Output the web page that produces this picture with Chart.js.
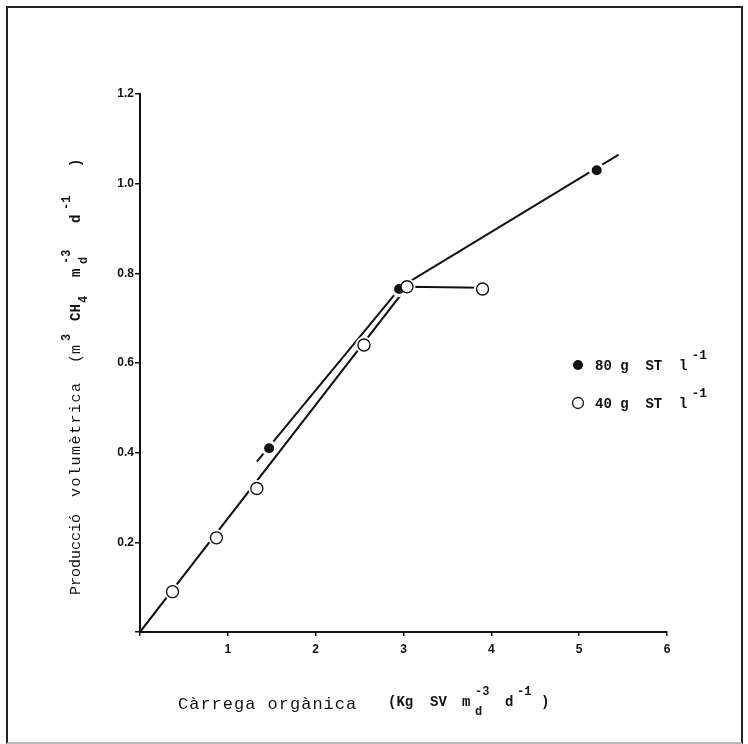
<!DOCTYPE html>
<html>
<head>
<meta charset="utf-8">
<script src="https://cdn.jsdelivr.net/npm/chart.js@4/dist/chart.umd.min.js"></script>
<style>
  html, body { margin: 0; padding: 0; background: #fff; }
  #wrap { position: relative; width: 748px; height: 744px; }
  #frame { position: absolute; left: 6px; top: 6px; width: 737px; height: 738px; border: 2px solid #222; border-bottom-color: #bbb; box-sizing: border-box; pointer-events: none; }
</style>
</head>
<body>
<div id="wrap">
  <canvas id="chart" width="748" height="744"></canvas>
  <div id="frame"></div>
</div>
<script>
// DATA
const load80 = [1.47, 2.95, 5.2];
const prod80 = [0.41, 0.765, 1.03];
const load40 = [0.37, 0.87, 1.33, 2.55, 3.04, 3.9];
const prod40 = [0.09, 0.21, 0.32, 0.64, 0.77, 0.765];

// fitted lines (hand drawn in the original)
const fit80X = [1.33, 2.95, null, 3.04, 5.45];
const fit80Y = [0.38, 0.765, null, 0.778, 1.065];
const fit40X = [0, 3.04, 3.9];
const fit40Y = [0, 0.77, 0.768];

const xTicks = [0, 1, 2, 3, 4, 5, 6];
const yTicks = [0, 0.2, 0.4, 0.6, 0.8, 1.0, 1.2];

const legendLabels = ["80 g  ST  l", "40 g  ST  l"];

const mono = '"Liberation Mono", "DejaVu Sans Mono", monospace';

function pts(xs, ys) {
  return xs.map((x, i) => (x === null ? { x: NaN, y: null } : { x: x, y: ys[i] }));
}

function put(ctx, txt, font, x, y, spacing) {
  ctx.font = font;
  ctx.letterSpacing = (spacing || 0) + "px";
  ctx.fillText(txt, x, y);
  ctx.letterSpacing = "0px";
}

// TITLES AND LEGEND
const textPlugin = {
  id: "texts",
  afterDraw(chart) {
    const ctx = chart.ctx;
    const reg = "15px " + mono;
    const bold = "bold 14px " + mono;
    const small = "bold 12px " + mono;
    ctx.save();
    ctx.fillStyle = "#111";
    ctx.textBaseline = "alphabetic";
    ctx.textAlign = "left";

    // x title
    put(ctx, "Càrrega orgànica", "17px " + mono, 178, 709, 1);
    put(ctx, "(Kg", bold, 388, 706);
    put(ctx, "SV", bold, 430, 706);
    put(ctx, "m", bold, 462, 706);
    put(ctx, "d", small, 475, 715);
    put(ctx, "-3", small, 475, 695);
    put(ctx, "d", bold, 505, 706);
    put(ctx, "-1", small, 517, 695);
    put(ctx, ")", bold, 541, 706);

    // y title (rotated), offsets measured up from y = 595
    ctx.save();
    ctx.translate(80, 595);
    ctx.rotate(-Math.PI / 2);
    put(ctx, "Producció", reg, 0, 0);
    put(ctx, "volumètrica", reg, 98, 0, 1.5);
    put(ctx, "(m", reg, 232, 0);
    put(ctx, "3", small, 254, -10);
    put(ctx, "CH", bold, 274, 0);
    put(ctx, "4", small, 292, 7);
    put(ctx, "m", bold, 318, 0);
    put(ctx, "d", small, 331, 7);
    put(ctx, "-3", small, 331, -10);
    put(ctx, "d", bold, 372, 0);
    put(ctx, "-1", small, 385, -10);
    put(ctx, ")", bold, 428, 0);
    ctx.restore();

    // legend
    const rows = [365, 403];
    legendLabels.forEach((lab, i) => {
      const cy = rows[i];
      ctx.beginPath();
      ctx.arc(578, cy, i === 0 ? 5 : 5.5, 0, Math.PI * 2);
      if (i === 0) {
        ctx.fill();
      } else {
        ctx.lineWidth = 1.3;
        ctx.strokeStyle = "#111";
        ctx.stroke();
      }
      put(ctx, lab, bold, 595, cy + 5);
      ctx.font = bold;
      const w = ctx.measureText(lab).width;
      put(ctx, "-1", "bold 13px " + mono, 595 + w + 4, cy - 6);
    });

    ctx.restore();
  }
};

// dataset 0 is painted last (on top), so markers come first
new Chart(document.getElementById("chart"), {
  type: "scatter",
  data: {
    datasets: [
      {
        data: pts(load40, prod40),
        backgroundColor: "#fff",
        borderColor: "#111",
        borderWidth: 1.4,
        pointRadius: 6
      },
      {
        data: pts(load80, prod80),
        backgroundColor: "#111",
        borderColor: "#fff",
        borderWidth: 3,
        pointRadius: 6.5
      },
      {
        // white halo so the lines break round the open circles
        data: pts(load40, prod40),
        backgroundColor: "#fff",
        borderWidth: 0,
        pointRadius: 8.5
      },
      {
        data: pts(fit80X, fit80Y),
        showLine: true,
        spanGaps: false,
        borderColor: "#111",
        borderWidth: 2,
        pointRadius: 0
      },
      {
        data: pts(fit40X, fit40Y),
        showLine: true,
        borderColor: "#111",
        borderWidth: 2,
        pointRadius: 0
      }
    ]
  },
  options: {
    responsive: false,
    animation: false,
    layout: { padding: { left: 0, right: 81, top: 94, bottom: 0 } },
    plugins: { legend: { display: false }, tooltip: { enabled: false } },
    scales: {
      x: {
        type: "linear",
        min: 0,
        max: 6,
        afterBuildTicks: axis => { axis.ticks = xTicks.map(v => ({ value: v })); },
        afterFit: axis => { axis.height = 112; },
        grid: { drawOnChartArea: false, tickLength: 4, color: "#111", lineWidth: 1.5 },
        border: { display: true, color: "#111", width: 2 },
        ticks: {
          color: "#111",
          padding: 6,
          font: { family: "Liberation Sans", size: 12, weight: "bold" },
          callback: v => (v === 0 ? "" : String(v))
        }
      },
      y: {
        type: "linear",
        min: 0,
        max: 1.2,
        afterBuildTicks: axis => { axis.ticks = yTicks.map(v => ({ value: v })); },
        afterFit: axis => { axis.width = 140; },
        grid: { drawOnChartArea: false, tickLength: 5, color: "#111", lineWidth: 1.5 },
        border: { display: true, color: "#111", width: 2 },
        ticks: {
          color: "#111",
          padding: 1,
          font: { family: "Liberation Sans", size: 12, weight: "bold" },
          callback: v => (v === 0 ? "" : v.toFixed(1))
        }
      }
    }
  },
  plugins: [textPlugin]
});
</script>
</body>
</html>
